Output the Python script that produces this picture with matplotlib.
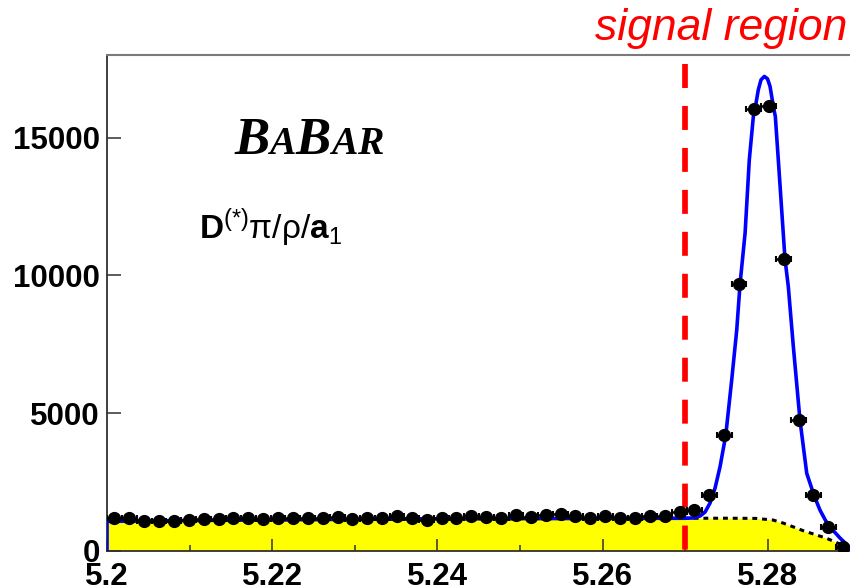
import numpy as np
import matplotlib
matplotlib.use("Agg")
import matplotlib.pyplot as plt
from matplotlib.ticker import FixedLocator, FuncFormatter

plt.rcParams['font.family'] = ['Liberation Sans', 'DejaVu Sans']
plt.rcParams['mathtext.fontset'] = 'custom'
plt.rcParams['mathtext.rm'] = 'Liberation Sans'
plt.rcParams['mathtext.it'] = 'Liberation Sans:italic'
plt.rcParams['mathtext.bf'] = 'Liberation Sans:bold'

# ---------------- data ----------------
bin_lo, bin_hi, n_bins = 5.2, 5.29, 50
counts = [1210, 1210, 1100, 1090, 1100, 1125, 1150, 1175, 1186, 1186,
          1150, 1210, 1186, 1186, 1210, 1246, 1150, 1210, 1186, 1283,
          1210, 1125, 1186, 1186, 1283, 1246, 1186, 1307, 1246, 1300,
          1331, 1283, 1186, 1283, 1210, 1210, 1283, 1283, 1420, 1500,
          2020, 4200, 9700, 16040, 16150, 10590, 4740, 2020, 860, 160]

# background (ARGUS-like) curve
bg_x = [5.2, 5.21, 5.22, 5.23, 5.24, 5.25, 5.26, 5.27, 5.275, 5.2785,
        5.2806, 5.2818, 5.2830, 5.2842, 5.2855, 5.2871, 5.2887, 5.2895, 5.29]
bg_y = [1075, 1105, 1130, 1150, 1165, 1175, 1183, 1188, 1190, 1183,
        1125, 1017, 882, 744, 617, 461, 254, 140, 0]

# total fit curve (signal peak region)
fit_peak_x = [5.2710, 5.27178, 5.27239, 5.27299, 5.27360, 5.27420, 5.27489,
              5.27561, 5.27622, 5.27662, 5.27723, 5.27774, 5.27823, 5.27843,
              5.27883, 5.27916, 5.27956, 5.27994, 5.28025, 5.28065, 5.28089,
              5.28125, 5.28206, 5.28246, 5.28307, 5.28388, 5.28469, 5.28557,
              5.28630, 5.28700, 5.28760, 5.28872, 5.28972, 5.29]
fit_peak_y = [1200, 1270, 1416, 1743, 2288, 3061, 4201,
              6209, 8025, 9695, 11536, 14197, 15770, 16039,
              16739, 17102, 17222, 17138, 16859, 16133, 15770,
              14197, 10592, 9597, 7418, 4731, 2821, 2022,
              1480, 1090, 840, 470, 182, 0]

signal_edge = 5.27
x_major = [5.2, 5.22, 5.24, 5.26, 5.28]
x_minor = [5.21, 5.23, 5.25, 5.27, 5.29]
y_major = [0, 5000, 10000, 15000]

# ---------------- figure ----------------
W, H = 850, 588
fig = plt.figure(figsize=(W / 100, H / 100), dpi=100)
ax = fig.add_axes([107 / W, 1 - 551 / H, (850.6 - 107) / W, 496 / H])
ax.set_xlim(bin_lo, bin_hi)
ax.set_ylim(0, 18000)

bw = (bin_hi - bin_lo) / n_bins
centers = [bin_lo + bw * (i + 0.5) for i in range(n_bins)]

# background fill + dotted curve
ax.fill_between(bg_x, bg_y, 0, color='#ffff00', lw=0, zorder=1)
ln_bg, = ax.plot(bg_x, bg_y, color='black', lw=2.2, zorder=2)
ln_bg.set_dashes((1.6, 1.6))

# total fit (blue)
flat_x = [v for v in bg_x if v <= signal_edge]
flat_y = bg_y[:len(flat_x)]
tot_x = [bin_lo] + flat_x + fit_peak_x
tot_y = [0] + flat_y + fit_peak_y
ax.plot(tot_x, tot_y, color='#0000ff', lw=2.6, zorder=3, solid_joinstyle='round')

# data points
ax.errorbar(centers, counts, xerr=bw / 2, fmt='o', color='black', ms=8.5,
            elinewidth=1.8, capsize=2, capthick=1.5, zorder=5)

# signal region dashed line
ln_sr, = ax.plot([signal_edge, signal_edge], [17683, 30], color='#ff0000',
                 lw=4.1, zorder=4, solid_capstyle='butt', dash_capstyle='butt')
ln_sr.set_dashes((24 / 5.7, 18 / 5.7))

# axes styling
for s in ['left', 'bottom']:
    ax.spines[s].set_color('#303030')
    ax.spines[s].set_linewidth(1.3)
ax.spines['top'].set_color('#7a7a7a')
ax.spines['top'].set_linewidth(1.5)
ax.spines['right'].set_visible(False)

ax.xaxis.set_major_locator(FixedLocator(x_major))
ax.xaxis.set_minor_locator(FixedLocator(x_minor))
ax.yaxis.set_major_locator(FixedLocator(y_major))
ax.xaxis.set_major_formatter(FuncFormatter(lambda v, p: f"{v:g}"))
ax.yaxis.set_major_formatter(FuncFormatter(lambda v, p: f"{int(v)}"))
ax.tick_params(axis='x', which='major', direction='in', length=9, width=1.1,
               pad=8, labelsize=22.5, color='#303030')
ax.tick_params(axis='x', which='minor', direction='in', length=4.5, width=1.1,
               color='#303030')
ax.tick_params(axis='y', which='major', direction='in', length=10, width=1.1,
               pad=5, labelsize=22.5, color='#303030')
for lab in ax.get_xticklabels() + ax.get_yticklabels():
    lab.set_fontweight('bold')

# signal region text
fig.text(847 / W, 1 - 40 / H, 'signal region', color='#ff0000', style='italic',
         fontsize=32, ha='right', va='baseline')

# BaBar logo (small caps, serif bold italic)
renderer = fig.canvas.get_renderer()
xpos = 234
pieces = [('B', 38), ('A', 28.5), ('B', 38), ('A', 28.5), ('R', 28.5)]
for ch, fs in pieces:
    t = fig.text(xpos / W, 1 - 154 / H, ch, family='Liberation Serif',
                 weight='bold', style='italic', fontsize=fs, va='baseline')
    bb = t.get_window_extent(renderer)
    xpos += bb.width

# decay label
fig.text(199 / W, 1 - 239 / H, r'$\mathbf{D}^{(*)}\mathrm{\pi/\rho/}\mathbf{a}_{1}$',
         fontsize=24, va='baseline')

fig.savefig('out.png', dpi=100, facecolor='white')
